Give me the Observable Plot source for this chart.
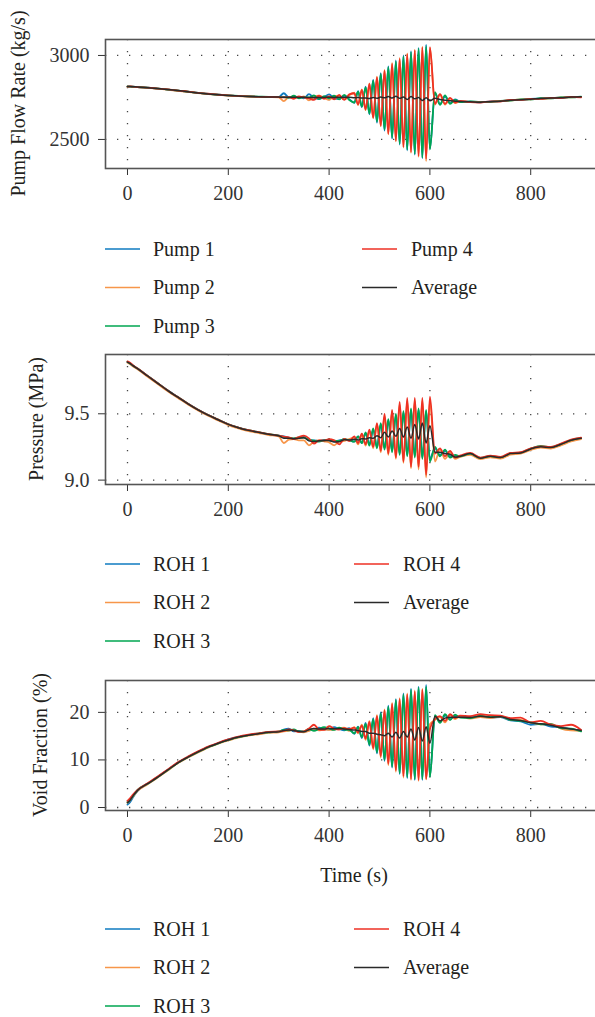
<!DOCTYPE html>
<html>
<head>
<meta charset="utf-8">
<script src="https://cdn.jsdelivr.net/npm/d3@7"></script>
<script src="https://cdn.jsdelivr.net/npm/@observablehq/plot@0.6"></script>
<style>
  html, body { margin: 0; padding: 0; background: #fff; overflow: hidden; }
  #page { position: relative; width: 595px; height: 1017px; overflow: hidden; background: #fff; }
  #page svg { position: absolute; left: 0; }
</style>
</head>
<body>
<div id="page"></div>
<script>
// ---------- data ----------
const time = [0,5,10,20,40,60,80,100,120,140,160,180,200,220,240,260,280,300,
  310,320,330,340,350,360,370,380,390,400,410,420,430,440,
  450,457.5,465,472.5,480,487.5,495,502.5,510,517.5,525,532.5,540,547.5,555,562.5,570,577.5,585,592.5,600,
  610,620,630,640,650,660,
  680,700,720,740,760,780,800,820,840,860,880,900];

const xTicks = [0, 200, 400, 600, 800];

// Panel 1: pump flow rate (kg/s)
const flowLabels = ["Pump 1", "Pump 2", "Pump 3", "Pump 4", "Average"];
const flowTicks = [2500, 3000];
const flowPump1 = [2815,2815,2814,2812,2808,2803,2797,2791,2784,2777,2771,2766,2762,2759,2756,2754,2753,2752,
  2775,2750,2748,2752,2745,2770,2748,2740,2752,2768,2745,2742,2760,2740,
  2718,2788,2693,2814,2650,2855,2600,2895,2552,2935,2505,2970,2470,3000,2435,3025,2410,3045,2388,3065,2445,
  2776,2710,2755,2716,2738,2725,
  2725,2721,2726,2728,2734,2736,2741,2745,2747,2749,2753,2754];
const flowPump2 = [2814,2814,2813,2811,2807,2802,2796,2790,2783,2776,2770,2765,2761,2758,2755,2753,2752,2751,
  2728,2752,2754,2748,2756,2732,2752,2760,2748,2735,2756,2760,2738,2762,
  2778,2705,2798,2674,2834,2626,2874,2578,2914,2530,2955,2488,2985,2452,3012,2420,3035,2396,3052,2370,3045,
  2708,2766,2708,2744,2716,2728,
  2723,2724,2723,2729,2732,2738,2739,2743,2745,2751,2751,2753];
const flowPump3 = [2816,2815,2814,2812,2808,2803,2797,2791,2784,2777,2771,2766,2762,2759,2757,2755,2753,2752,
  2752,2748,2760,2745,2752,2750,2762,2740,2758,2745,2760,2738,2765,2735,
  2720,2785,2696,2810,2654,2850,2606,2890,2558,2930,2510,2965,2474,2995,2440,3020,2414,3040,2392,3055,2440,
  2782,2706,2762,2712,2736,2722,
  2726,2723,2724,2730,2731,2739,2738,2746,2744,2750,2750,2755];
const flowPump4 = [2815,2816,2815,2812,2808,2803,2798,2791,2785,2777,2772,2766,2762,2759,2756,2754,2753,2752,
  2750,2752,2742,2756,2750,2745,2735,2760,2742,2756,2738,2765,2735,2768,
  2775,2708,2795,2678,2830,2630,2870,2582,2910,2534,2950,2492,2980,2456,3008,2426,3030,2402,3048,2384,3050,
  2712,2770,2712,2748,2720,2730,
  2722,2720,2727,2726,2735,2735,2742,2742,2748,2746,2754,2750];
const flowAverage = [2815,2815,2814,2812,2808,2803,2797,2791,2784,2777,2771,2766,2762,2759,2756,2754,2753,2752,
  2751,2751,2751,2750,2751,2749,2749,2750,2750,2751,2750,2751,2750,2751,
  2748,2749,2746,2747,2744,2750,2745,2752,2748,2755,2746,2757,2745,2752,2738,2755,2742,2750,2732,2748,2730,
  2745,2738,2734,2730,2728,2726,
  2724,2722,2725,2728,2733,2737,2740,2744,2746,2748,2752,2754];

// Panel 2: pressure (MPa)
const rohLabels = ["ROH 1", "ROH 2", "ROH 3", "ROH 4", "Average"];
const presTicks = [9.0, 9.5];
const presRoh1 = [9.890,9.880,9.865,9.840,9.785,9.730,9.675,9.625,9.575,9.530,9.490,9.455,9.420,9.395,9.375,9.360,9.345,9.335,
  9.330,9.320,9.312,9.318,9.325,9.300,9.300,9.295,9.302,9.298,9.292,9.300,9.305,9.302,
  9.29,9.33,9.28,9.35,9.27,9.38,9.25,9.42,9.24,9.45,9.22,9.49,9.20,9.51,9.19,9.53,9.18,9.53,9.17,9.52,9.16,
  9.24,9.19,9.22,9.18,9.185,9.18,
  9.198,9.165,9.18,9.17,9.2,9.205,9.235,9.252,9.245,9.27,9.3,9.315];
const presRoh2 = [9.885,9.875,9.860,9.835,9.780,9.725,9.670,9.620,9.570,9.525,9.485,9.450,9.415,9.390,9.370,9.355,9.340,9.330,
  9.280,9.305,9.310,9.300,9.300,9.262,9.290,9.300,9.292,9.285,9.262,9.290,9.295,9.310,
  9.32,9.27,9.34,9.26,9.37,9.24,9.42,9.21,9.48,9.19,9.52,9.16,9.57,9.13,9.60,9.09,9.60,9.08,9.60,9.02,9.60,
  9.14,9.23,9.16,9.21,9.16,9.175,
  9.19,9.158,9.172,9.162,9.192,9.2,9.228,9.245,9.238,9.262,9.292,9.31];
const presRoh3 = [9.892,9.880,9.866,9.841,9.786,9.731,9.676,9.626,9.576,9.531,9.491,9.456,9.421,9.396,9.376,9.361,9.346,9.336,
  9.325,9.318,9.315,9.322,9.320,9.305,9.298,9.290,9.300,9.305,9.298,9.295,9.310,9.300,
  9.29,9.33,9.28,9.36,9.26,9.39,9.24,9.43,9.23,9.46,9.21,9.50,9.19,9.52,9.18,9.54,9.17,9.54,9.16,9.53,9.14,
  9.25,9.18,9.23,9.17,9.19,9.18,
  9.20,9.168,9.182,9.172,9.203,9.208,9.238,9.258,9.248,9.272,9.302,9.318];
const presRoh4 = [9.895,9.885,9.868,9.842,9.786,9.731,9.676,9.626,9.576,9.531,9.491,9.456,9.421,9.396,9.376,9.361,9.346,9.336,
  9.328,9.322,9.310,9.325,9.335,9.315,9.275,9.300,9.298,9.308,9.300,9.270,9.310,9.295,
  9.33,9.28,9.35,9.27,9.38,9.25,9.43,9.22,9.50,9.20,9.53,9.17,9.59,9.14,9.62,9.10,9.62,9.10,9.62,9.04,9.63,
  9.20,9.24,9.18,9.22,9.17,9.185,
  9.205,9.17,9.185,9.175,9.205,9.21,9.24,9.255,9.25,9.275,9.305,9.32];
const presAverage = [9.890,9.880,9.865,9.840,9.785,9.730,9.675,9.625,9.575,9.530,9.490,9.455,9.420,9.395,9.375,9.360,9.345,9.335,
  9.316,9.316,9.312,9.316,9.320,9.296,9.291,9.296,9.298,9.299,9.288,9.289,9.305,9.302,
  9.308,9.303,9.312,9.31,9.32,9.315,9.335,9.32,9.36,9.325,9.37,9.33,9.39,9.325,9.40,9.315,9.42,9.31,9.43,9.28,9.41,
  9.21,9.21,9.20,9.195,9.175,9.18,
  9.20,9.165,9.18,9.17,9.20,9.205,9.235,9.252,9.245,9.27,9.30,9.315];

// Panel 3: void fraction (%)
const voidTicks = [0, 10, 20];
const voidRoh1 = [0.6,1.1,2.0,3.5,5.0,6.4,7.9,9.4,10.6,11.7,12.7,13.5,14.3,14.8,15.2,15.5,15.8,15.9,
  16.4,16.6,16.0,16.1,15.9,16.2,16.3,16.8,16.5,16.4,16.9,16.5,16.2,16.7,
  15.5,17.0,14.6,17.8,13.0,18.8,11.4,20.0,9.8,21.4,8.4,22.8,7.0,24.0,6.2,25.0,5.8,25.4,5.8,25.8,6.6,
  19.2,18.0,19.3,18.6,19.2,19.0,
  18.9,19.1,18.9,19.0,18.3,18.1,17.4,17.6,17.0,16.9,16.4,16.2];
const voidRoh2 = [1.0,1.5,2.2,3.5,4.9,6.3,7.8,9.3,10.5,11.6,12.6,13.4,14.1,14.7,15.1,15.4,15.7,15.8,
  16.0,16.1,16.3,15.9,15.8,16.1,16.6,16.2,16.4,16.3,16.4,16.7,16.8,16.1,
  16.9,15.6,17.4,14.2,18.2,12.2,19.4,10.5,20.6,8.9,22.0,7.5,23.0,6.3,24.0,5.8,24.6,5.6,25.0,5.9,17.5,
  18.4,19.0,17.9,19.4,18.6,19.1,
  18.7,19.0,18.8,19.1,18.5,18.4,17.9,17.5,17.6,16.6,16.2,16.1];
const voidRoh3 = [1.1,1.6,2.3,3.7,5.0,6.4,7.9,9.4,10.6,11.7,12.7,13.5,14.2,14.8,15.2,15.6,15.8,16.0,
  16.3,16.2,16.4,16.0,16.0,16.5,16.1,16.5,16.9,16.6,16.3,16.8,16.4,16.3,
  15.6,16.9,14.8,17.6,13.2,18.6,11.6,19.8,10.0,21.2,8.6,22.6,7.2,23.8,6.4,24.8,6.0,25.2,6.0,25.4,6.4,
  19.4,17.8,19.6,18.4,19.5,18.9,
  18.8,19.3,19.0,19.2,18.4,18.2,17.9,17.5,17.5,16.7,16.6,16.0];
const voidRoh4 = [1.4,1.9,2.6,3.7,5.1,6.5,8.0,9.5,10.7,11.8,12.8,13.6,14.3,14.9,15.3,15.6,15.9,16.0,
  16.1,16.4,16.2,15.9,16.0,16.6,17.4,16.4,16.3,17.1,16.6,16.4,16.7,16.5,
  16.8,15.8,17.2,14.5,18.0,12.5,19.2,10.8,20.4,9.2,21.8,7.8,22.8,6.6,23.8,6.0,24.4,5.8,24.8,6.0,16.5,
  18.6,19.2,18.2,19.6,18.8,19.3,
  19.2,19.6,19.4,19.3,18.8,18.9,17.9,18.2,17.4,17.1,17.4,16.3];
const voidAverage = [1.0,1.5,2.3,3.6,5.0,6.4,7.9,9.4,10.6,11.7,12.7,13.5,14.2,14.8,15.2,15.5,15.8,15.9,
  16.2,16.3,16.2,16.0,15.9,16.35,16.6,16.5,16.5,16.6,16.55,16.6,16.5,16.4,
  16.3,16.2,16.0,16.0,15.6,15.6,15.4,15.3,15.1,15.6,14.8,15.8,14.6,16.0,14.8,16.5,14.2,16.8,14.0,17.0,13.5,
  19.2,18.2,18.8,19.0,19.0,19.0,
  18.9,19.2,19.0,19.1,18.5,18.3,17.8,17.6,17.3,16.8,16.5,16.2];

const colors = ["#0f7bc0", "#f7964a", "#00a651", "#ee3124", "#2a2a2a"];

// ---------- drawing ----------
const FONT = "'Liberation Serif', 'Times New Roman', serif";
const FS = 20;
const page = document.getElementById("page");
const xDomain = [-43.65, 948.4];

function panel({top, height, marginTop, marginBottom, yDomain, yTicks, yFormat, series}) {
  const marks = [
    Plot.ruleX(xTicks, {stroke: "#444", strokeWidth: 1.3, strokeDasharray: "1.3,10.7"}),
    Plot.ruleY(yTicks, {stroke: "#444", strokeWidth: 1.3, strokeDasharray: "1.3,10.7"}),
    ...series.map((vals, k) => Plot.line(vals, {
      x: time, y: d => d, stroke: colors[k],
      strokeWidth: k === 4 ? 1.5 : 1.8, curve: "monotone-x"
    })),
    Plot.frame({stroke: "#555", strokeWidth: 1.6})
  ];
  const svg = Plot.plot({
    width: 605, height,
    marginLeft: 105, marginRight: 0, marginTop, marginBottom,
    x: {domain: xDomain, ticks: xTicks, tickSize: 7, tickPadding: 10, tickFormat: d => String(d), label: null},
    y: {domain: yDomain, ticks: yTicks, tickSize: 7, tickPadding: 9, tickFormat: yFormat, label: null},
    style: {background: "transparent", fontFamily: FONT, fontSize: FS + "px", color: "#333", maxWidth: "none", overflow: "visible"},
    marks
  });
  svg.style.top = top + "px";
  svg.style.position = "absolute";
  page.appendChild(svg);
}

panel({top: 0, height: 208, marginTop: 39, marginBottom: 40,
  yDomain: [2327, 3095], yTicks: flowTicks, yFormat: d => String(d),
  series: [flowPump1, flowPump2, flowPump3, flowPump4, flowAverage]});
panel({top: 320, height: 204, marginTop: 34, marginBottom: 40,
  yDomain: [8.967, 9.947], yTicks: presTicks, yFormat: d3.format(".1f"),
  series: [presRoh1, presRoh2, presRoh3, presRoh4, presAverage]});
panel({top: 640, height: 210, marginTop: 40, marginBottom: 40,
  yDomain: [-0.63, 26.7], yTicks: voidTicks, yFormat: d => String(d),
  series: [voidRoh1, voidRoh2, voidRoh3, voidRoh4, voidAverage]});

// overlay: axis titles and legends
const ov = d3.select(page).append("svg")
  .attr("width", 595).attr("height", 1017)
  .style("position", "absolute").style("top", "0px").style("left", "0px")
  .style("font-family", FONT).style("font-size", FS + "px").attr("fill", "#231f20");

const titles = [
  {text: "Pump Flow Rate (kg/s)", x: 25, y: 103.5},
  {text: "Pressure (MPa)", x: 43, y: 419},
  {text: "Void Fraction (%)", x: 47, y: 745}
];
ov.selectAll("text.ytitle").data(titles).join("text")
  .attr("class", "ytitle")
  .attr("text-anchor", "middle")
  .attr("transform", d => `translate(${d.x},${d.y}) rotate(-90)`)
  .text(d => d.text);

ov.append("text").attr("x", 354).attr("y", 882).attr("text-anchor", "middle").text("Time (s)");

const legends = [
  {labels: flowLabels, rows: [249, 287.5, 326], cols: [105, 362], textCols: [153, 411]},
  {labels: rohLabels, rows: [564, 602.5, 641], cols: [105, 354], textCols: [153, 403]},
  {labels: rohLabels, rows: [929, 967.5, 1006], cols: [105, 354], textCols: [153, 403]}
];
legends.forEach(L => {
  L.labels.forEach((lab, i) => {
    const col = i < 3 ? 0 : 1, row = i < 3 ? i : i - 3;
    const y = L.rows[row];
    ov.append("line").attr("x1", L.cols[col]).attr("x2", L.cols[col] + 35)
      .attr("y1", y).attr("y2", y).attr("stroke", colors[i]).attr("stroke-width", 1.6);
    ov.append("text").attr("x", L.textCols[col]).attr("y", y + 6.5).text(lab);
  });
});
</script>
</body>
</html>
